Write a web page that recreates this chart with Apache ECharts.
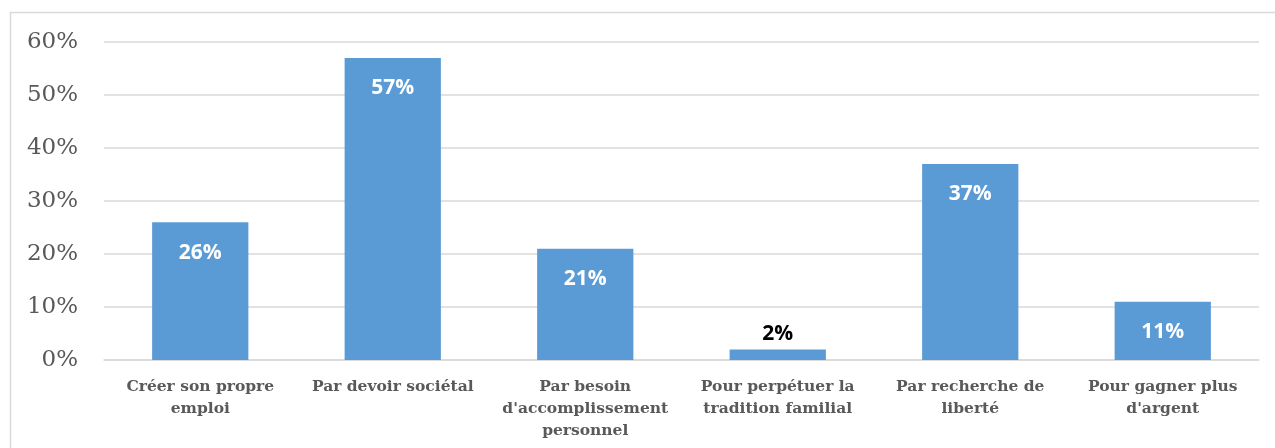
<!DOCTYPE html>
<html>
<head>
<meta charset="utf-8">
<script src="https://cdn.jsdelivr.net/npm/echarts@6/dist/echarts.min.js"></script>
<style>
  html, body { margin: 0; padding: 0; background: #fff; }
  #chart { width: 1275px; height: 448px; }
</style>
</head>
<body>
<div id="chart"></div>
<script>
// Motivations reported by respondents (share, %)
const categories = [
  "Créer son propre\nemploi",
  "Par devoir sociétal",
  "Par besoin\nd'accomplissement\npersonnel",
  "Pour perpétuer la\ntradition familial",
  "Par recherche de\nliberté",
  "Pour gagner plus\nd'argent"
];
const shares = [26, 57, 21, 2, 37, 11];
const yTicks = { min: 0, max: 60, interval: 10 };

const chart = echarts.init(document.getElementById('chart'), null, { renderer: 'canvas' });

const barData = shares.map(function (v) {
  const small = v < 5;
  return {
    value: v,
    label: small
      ? { position: 'top', distance: 5, color: '#000000' }
      : { position: 'insideTop', distance: 20, color: '#ffffff' }
  };
});

chart.setOption({
  animation: false,
  backgroundColor: '#ffffff',
  graphic: [{
    type: 'rect',
    shape: { x: 10.5, y: 12.5, width: 1400, height: 600 },
    style: { fill: 'none', stroke: '#d9d9d9', lineWidth: 1.5 },
    silent: true,
    z: -1
  }],
  grid: { left: 104, right: 16, top: 42, bottom: 88 },
  xAxis: {
    type: 'category',
    data: categories,
    axisLine: { show: true, lineStyle: { color: '#d9d9d9', width: 1.5 } },
    axisTick: { show: false },
    axisLabel: {
      interval: 0,
      margin: 16,
      color: '#595959',
      fontFamily: 'DejaVu Serif',
      fontWeight: 'bold',
      fontSize: 15.5,
      lineHeight: 22
    }
  },
  yAxis: {
    type: 'value',
    min: yTicks.min,
    max: yTicks.max,
    interval: yTicks.interval,
    axisLine: { show: false },
    axisTick: { show: false },
    splitLine: { lineStyle: { color: '#d9d9d9', width: 1.5 } },
    axisLabel: {
      margin: 26,
      color: '#595959',
      fontFamily: 'DejaVu Serif',
      fontSize: 23,
      formatter: function (v) { return v + '%'; }
    }
  },
  series: [{
    type: 'bar',
    data: barData,
    barWidth: '50%',
    itemStyle: { color: '#5b9bd5' },
    label: {
      show: true,
      fontFamily: 'Open Sans',
      fontWeight: 'bold',
      fontSize: 21,
      formatter: function (p) { return p.value + '%'; }
    }
  }]
});
</script>
</body>
</html>
